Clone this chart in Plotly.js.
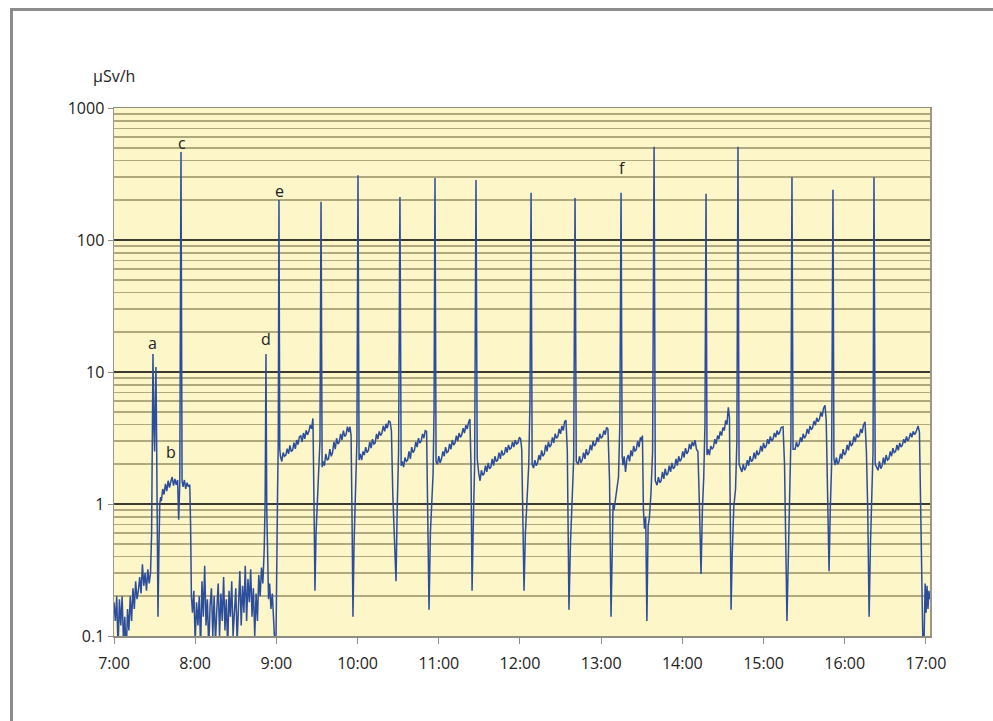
<!DOCTYPE html>
<html>
<head>
<meta charset="utf-8">
<script src="https://cdn.plot.ly/plotly-3.0.1.min.js"></script>
<style>
html,body{margin:0;padding:0;background:#fff;overflow:hidden;}
#wrap{position:relative;width:993px;height:721px;}
#chart{position:absolute;left:0;top:0;width:993px;height:721px;}
#frame{position:absolute;left:10px;top:8px;width:1200px;height:900px;border-left:3px solid #8c8c8c;border-top:3px solid #8c8c8c;pointer-events:none;}
</style>
</head>
<body>
<div id="wrap"><div id="chart"></div><div id="frame"></div></div>
<script>
// time in minutes after 7:00, dose rate in µSv/h
const earlyBackground = [[0,0.18],[1,0.13],[2,0.2],[3,0.08],[4,0.19],[5,0.12],[6,0.2],[7,0.09],[8,0.14],[9,0.07],[10,0.16],[11,0.11],[12,0.2],[13,0.13],[14,0.23],[15,0.16],[16,0.26],[17,0.19],[18,0.22],[19,0.28],[20,0.21],[21,0.35],[22,0.24],[23,0.3],[24,0.22],[25,0.32],[26,0.25],[27,0.3]];
const sessionABC = [[27.8,0.6],[28.8,13.7],[29.4,4],[30,2.5],[30.5,6],[31,10.9],[31.5,3],[32,0.5],[32.5,0.14],[33.2,0.45],[33.8,1.0],[34.5,1.13],[35,1.05],[36,1.3],[37,1.18],[38,1.42],[39,1.25],[40,1.5],[41,1.33],[42,1.48],[43,1.6],[44,1.38],[45,1.55],[46,1.4],[47,1.52],[47.8,0.76],[48.6,1.45],[49.5,464],[50.3,1.5],[51,1.35],[52,1.52],[53,1.3],[54,1.45],[55,1.35],[56,1.4],[56.6,0.7],[57.2,0.2]];
const midBackground = [[58,0.15],[59,0.22],[60,0.09],[61,0.18],[62,0.12],[63,0.2],[64,0.08],[65,0.26],[66,0.14],[67,0.34],[68,0.12],[69,0.19],[70,0.08],[71,0.17],[72,0.23],[73,0.1],[74,0.2],[75,0.09],[76,0.16],[77,0.25],[78,0.1],[79,0.21],[80,0.13],[81,0.28],[82,0.11],[83,0.19],[84,0.08],[85,0.22],[86,0.14],[87,0.26],[88,0.1],[89,0.17],[90,0.23],[91,0.09],[92,0.2],[93,0.31],[94,0.12],[95,0.24],[96,0.15],[97,0.34],[98,0.13],[99,0.27],[100,0.18],[101,0.32],[102,0.14],[103,0.23],[104,0.1],[105,0.21],[106,0.13],[107,0.29],[108,0.2],[109,0.33],[110,0.25]];
const peaksDE = [[111,0.45],[111.7,1.1],[112.3,13.7],[112.9,0.9],[113.5,0.3],[114.2,0.19],[115,0.25],[116,0.16],[117,0.21],[118,0.12],[119,0.08],[119.7,0.09],[120.3,0.7],[120.9,1.3],[121.4,3],[121.9,201],[122.5,2.6]];
const cycle1 = [[123,2.3],[124,2.1],[125,2.45],[126,2.3],[127,2.35],[128,2.62],[129,2.4],[130,2.78],[131,2.5],[132,2.56],[133,2.92],[134,2.62],[135,3.05],[136,2.82],[137,3.22],[138,3.28],[139,2.95],[140,3.45],[141,3.12],[142,3.62],[143,3.34],[144,3.55],[145,3.95],[146,3.72],[146.5,4.3],[147,4.45],[147.8,1.0],[148.5,0.22],[149.3,0.6],[150.3,1.1],[151.2,1.6],[152.2,3],[153,195],[153.8,1.9]];
const cycle2 = [[154.5,2.1],[155.5,1.95],[156.5,2.4],[157.5,2.15],[158.5,2.2],[159.5,2.6],[160.5,2.3],[161.5,2.45],[162.5,2.95],[163.5,2.6],[164.5,3.15],[165.5,2.85],[166.5,2.95],[167.5,3.4],[168.5,3.05],[169.5,3.6],[170.5,3.25],[171.5,3.35],[172.5,3.85],[173.5,3.5],[174.4,3.85],[175.2,3.3],[175.9,0.8],[176.6,0.14],[177.4,0.5],[178.4,1.2],[179.5,3],[180.3,310],[181.1,2.15]];
const cycle3 = [[182,2.4],[183,2.15],[184,2.5],[185,2.35],[186,2.7],[187,2.45],[188,2.55],[189,2.95],[190,2.65],[191,3.1],[192,2.85],[193,2.9],[194,3.4],[195,3.1],[196,3.55],[197,3.3],[198,3.45],[199,3.9],[200,3.55],[201,4.05],[202,3.75],[203,4.25],[204,4.2],[205,3.6],[206,1.2],[207.4,0.4],[208.4,0.26],[209.3,0.95],[210.3,2.5],[211.3,212],[212.2,1.95]];
const cycle4 = [[213,2.1],[214,1.9],[215,2.25],[216,2.1],[217,2.15],[218,2.5],[219,2.2],[220,2.7],[221,2.45],[222,2.55],[223,2.95],[224,2.7],[225,3.15],[226,2.9],[227,3.0],[228,3.4],[229,3.15],[230,3.6],[231,3.55],[231.8,1.0],[232.8,0.158],[233.8,0.6],[234.8,1.05],[235.8,1.7],[236.5,5],[237.2,295],[238,2.1]];
const cycle5 = [[239,2.0],[240,2.3],[241,2.05],[242,2.2],[243,2.5],[244,2.3],[245,2.7],[246,2.45],[247,2.5],[248,2.85],[249,2.6],[250,3.05],[251,2.8],[252,2.9],[253,3.3],[254,3.0],[255,3.45],[256,3.2],[257,3.35],[258,3.75],[259,3.45],[260,3.95],[261,3.7],[262,4.15],[263,4.4],[263.8,2.0],[264.6,0.22],[265.5,0.7],[266.5,2],[267.5,285],[268.4,2.2]];
const cycle6 = [[269.5,1.72],[270.5,1.5],[271.5,1.8],[272.5,1.65],[273.5,1.7],[274.5,1.95],[275.5,1.75],[276.5,2.05],[277.5,1.85],[278.5,1.9],[279.5,2.2],[280.5,1.95],[281.5,2.3],[282.5,2.1],[283.5,2.15],[284.5,2.45],[285.5,2.2],[286.5,2.55],[287.5,2.35],[288.5,2.4],[289.5,2.7],[290.5,2.45],[291.5,2.8],[292.5,2.6],[293.5,2.65],[294.5,2.95],[295.5,2.7],[296.5,3.05],[297.5,2.85],[298.5,2.9],[299.5,3.2],[300.5,3.1],[301.3,2.6],[302.2,0.9],[303,0.22],[304,0.6],[305.2,1.2],[306.5,2],[307.4,6],[308.2,228],[309,2.0]];
const cycle7 = [[310,1.87],[311,2.15],[312,1.95],[313,2.05],[314,2.35],[315,2.15],[316,2.55],[317,2.3],[318,2.4],[319,2.8],[320,2.5],[321,2.95],[322,2.7],[323,2.8],[324,3.2],[325,2.9],[326,3.4],[327,3.15],[328,3.25],[329,3.7],[330,3.4],[331,3.9],[332,3.6],[333,4.2],[334,4.3],[335,2.5],[336.2,0.158],[337.3,0.5],[338.5,1.1],[339.7,2.2],[340.7,208],[341.6,2.1]];
const cycle8 = [[343,2.0],[344,2.3],[345,2.05],[346,2.15],[347,2.45],[348,2.2],[349,2.6],[350,2.35],[351,2.45],[352,2.8],[353,2.55],[354,3.0],[355,2.75],[356,2.85],[357,3.2],[358,2.95],[359,3.4],[360,3.15],[361,3.25],[362,3.6],[363,3.35],[364,3.8],[365,3.7],[366.2,1.5],[367.3,0.14],[368.1,0.6],[368.8,1.0],[369.5,0.9],[370.5,1.05],[371.6,1.3],[372.8,1.6],[373.8,4],[374.7,228],[375.5,2.3]];
const cycle9 = [[376.2,1.97],[377,2.3],[378,1.75],[379,2.2],[380,2.35],[381,2.1],[382,2.55],[383,2.3],[384,2.75],[385,2.5],[386,2.6],[387,3.0],[388,2.7],[389,3.2],[390,3.0],[390.5,3.3],[391.2,0.92],[392,0.65],[392.9,0.8],[393.8,0.13],[394.7,0.68],[395.6,0.78],[396.8,1.2],[398,2.5],[399.1,509],[400,1.5]];
const cycle10 = [[401.3,1.39],[402.3,1.6],[403.3,1.45],[404.3,1.5],[405.3,1.75],[406.3,1.55],[407.3,1.85],[408.3,1.65],[409.3,1.7],[410.3,1.95],[411.3,1.75],[412.3,2.05],[413.3,1.85],[414.3,1.9],[415.3,2.2],[416.3,1.95],[417.3,2.3],[418.3,2.1],[419.3,2.2],[420.3,2.5],[421.3,2.25],[422.3,2.65],[423.3,2.4],[424.3,2.5],[425.3,2.85],[426.3,2.6],[427.3,2.95],[428.3,2.75],[429.4,3.05],[430.4,2.6],[431.5,2.5],[432.6,1.0],[433.8,0.295],[434.8,0.9],[435.8,1.6],[436.7,4],[437.5,224],[438.2,2.35]];
const cycle11 = [[439,2.6],[440,2.35],[441,2.75],[442,2.6],[443,2.7],[444,3.1],[445,2.85],[446,3.3],[447,3.1],[448,3.55],[449,3.3],[450,3.8],[451,3.6],[452,4.3],[453,4.0],[453.6,4.9],[454,5.4],[454.8,4.5],[455.4,1.2],[456,0.158],[456.8,0.4],[458,0.95],[459.3,1.3],[460.3,3],[461.1,509],[461.9,2.0]];
const cycle12 = [[464,1.75],[465,2.0],[466,1.8],[467,1.9],[468,2.15],[469,1.95],[470,2.3],[471,2.1],[472,2.15],[473,2.45],[474,2.2],[475,2.55],[476,2.35],[477,2.45],[478,2.75],[479,2.5],[480,2.9],[481,2.65],[482,2.75],[483,3.1],[484,2.85],[485,3.25],[486,3.0],[487,3.1],[488,3.45],[489,3.2],[490,3.6],[491,3.35],[492,3.5],[493,3.8],[494.4,3.85],[495.5,2.0],[497.3,0.13],[498.4,0.6],[499.4,1.3],[500.2,3],[501,299],[501.8,2.6]];
const cycle13 = [[503.3,2.6],[504.3,2.95],[505.3,2.7],[506.3,2.85],[507.3,3.2],[508.3,2.95],[509.3,3.4],[510.3,3.15],[511.3,3.3],[512.3,3.7],[513.3,3.4],[514.3,3.9],[515.3,3.65],[516.3,3.8],[517.3,4.25],[518.3,3.95],[519.3,4.5],[520.3,4.2],[521.3,4.4],[522.3,4.95],[523.3,4.6],[524.3,5.3],[525.4,5.6],[526.3,4.3],[527.3,1.2],[528.4,0.31],[529.3,0.9],[530.3,2],[531.3,240],[532,2.2]];
const cycle14 = [[532.8,1.97],[533.8,2.25],[534.8,2.0],[535.8,2.1],[536.8,2.4],[537.8,2.2],[538.8,2.6],[539.8,2.35],[540.8,2.45],[541.8,2.8],[542.8,2.55],[543.8,3.0],[544.8,2.75],[545.8,2.85],[546.8,3.25],[547.8,2.95],[548.8,3.4],[549.8,3.2],[550.8,3.3],[551.8,3.7],[552.8,3.45],[553.8,3.95],[555,4.2],[556,2.5],[557,0.9],[558,0.14],[559,0.5],[560,1.0],[560.9,2.5],[561.6,299],[562.5,2.0]];
const cycle15 = [[564.6,1.8],[565.6,2.1],[566.6,1.85],[567.6,1.95],[568.6,2.25],[569.6,2.0],[570.6,2.35],[571.6,2.15],[572.6,2.2],[573.6,2.5],[574.6,2.3],[575.6,2.65],[576.6,2.45],[577.6,2.5],[578.6,2.8],[579.6,2.55],[580.6,2.9],[581.6,2.7],[582.6,2.8],[583.6,3.1],[584.6,2.9],[585.6,3.25],[586.6,3.0],[587.6,3.15],[588.6,3.45],[589.6,3.2],[590.6,3.55],[591.6,3.35],[592.6,3.5],[593.6,3.8],[594.2,3.9],[595.2,3.5],[596.2,1.0],[597.2,0.3],[597.8,0.08],[598.6,0.09],[599.4,0.25],[600.1,0.15],[600.8,0.24],[601.5,0.16],[602.2,0.22],[603,0.19]];

const tickMinutes = [0,60,120,180,240,300,360,420,480,540,600];
const tickLabels = ['7:00','8:00','9:00','10:00','11:00','12:00','13:00','14:00','15:00','16:00','17:00'];
const yTickVals = [0.1,1,10,100,1000];
const yTickText = ['0.1','1','10','100','1000'];
// labelled events: letter, minute, dose rate where the letter sits
const eventLetters = ['a','b','c','d','e','f'];
const eventMinutes = [28.8,42.1,50.0,112.3,122.0,375.4];
const eventLevels = [16.6,2.48,543,17.8,235,351];

const segments = [earlyBackground,sessionABC,midBackground,peaksDE,cycle1,cycle2,cycle3,cycle4,cycle5,cycle6,cycle7,cycle8,cycle9,cycle10,cycle11,cycle12,cycle13,cycle14,cycle15];
const xs = [], ys = [];
segments.forEach(s => s.forEach(p => { xs.push(p[0]); ys.push(p[1]); }));

const FONT = 'Open Sans, Liberation Sans, sans-serif';

const trace = {
  x: xs, y: ys, type: 'scatter', mode: 'lines',
  line: {color: '#2c4d9c', width: 1.5},
  hoverinfo: 'skip'
};

const annotations = eventLetters.map((t,i) => ({
  x: eventMinutes[i], y: Math.log10(eventLevels[i]), xref: 'x', yref: 'y',
  text: t, showarrow: false, xanchor: 'center', yanchor: 'middle',
  font: {family: FONT, size: 16, color: '#222'}
}));
annotations.push({
  x: 0, y: 1.06, xref: 'paper', yref: 'paper', text: 'µSv/h', showarrow: false,
  xanchor: 'center', yanchor: 'middle', font: {family: FONT, size: 16, color: '#222'}
});

const layout = {
  width: 993, height: 721,
  margin: {l: 114, r: 63, t: 108, b: 85},
  paper_bgcolor: 'rgba(0,0,0,0)',
  plot_bgcolor: '#fcf6c9',
  showlegend: false,
  font: {family: FONT, size: 16, color: '#222'},
  xaxis: {
    range: [0, 603], tickvals: tickMinutes, ticktext: tickLabels,
    showgrid: false, zeroline: false,
    showline: true, linecolor: '#8f8d80', linewidth: 1.5, mirror: true,
    ticks: 'outside', ticklen: 6, tickcolor: '#8f8d80', tickwidth: 1,
    ticklabelstandoff: 6,
    tickfont: {family: FONT, size: 16, color: '#222'}
  },
  yaxis: {
    type: 'log', range: [-1, 3], tickvals: yTickVals, ticktext: yTickText,
    showgrid: true, gridcolor: '#3d3b30', gridwidth: 1.6, zeroline: false,
    showline: true, linecolor: '#9a988c', linewidth: 1.5, mirror: true,
    ticks: 'outside', ticklen: 5, tickcolor: '#8f8d80',
    tickfont: {family: FONT, size: 16, color: '#222'},
    minor: {dtick: 'D1', showgrid: true, gridcolor: '#b0a97e', gridwidth: 1.6, ticks: ''}
  },
  annotations: annotations
};

Plotly.newPlot('chart', [trace], layout, {displayModeBar: false, staticPlot: true});
</script>
</body>
</html>
